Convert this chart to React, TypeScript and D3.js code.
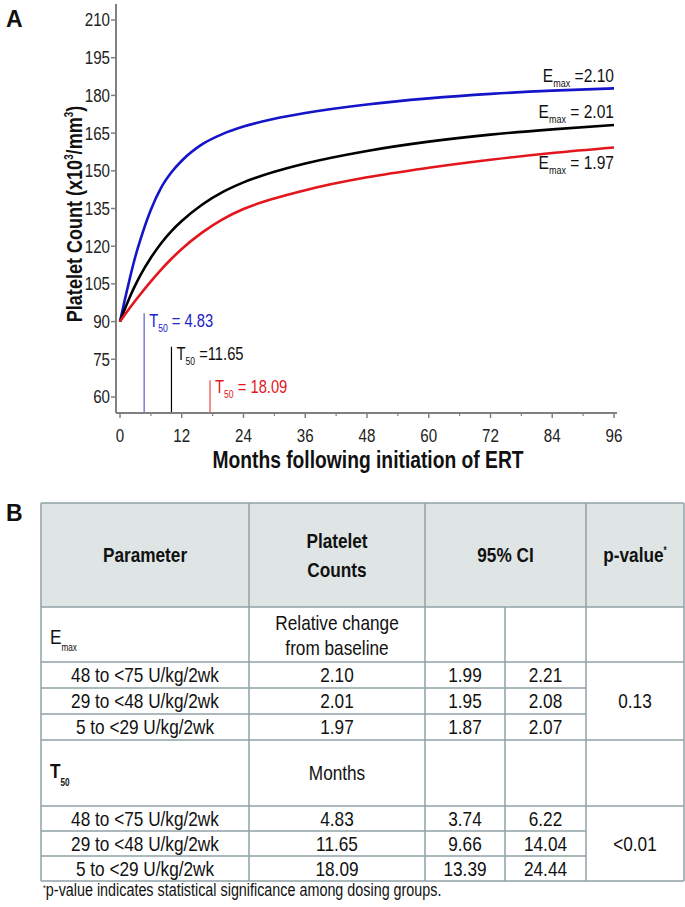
import React from "react";
import * as d3 from "d3";

const months = [0, 1, 2, 3, 4, 6, 8, 10, 12, 16, 20, 24, 30, 36, 48, 60, 72, 84, 96];
const highDose = [90, 99.3, 108, 116, 122.8, 134.5, 143.3, 149.4, 154, 160.6, 164.7, 167.6, 170.7, 173, 176.4, 178.8, 180.6, 181.9, 182.8];
const midDose = [90, 95.3, 100.2, 104.6, 108.6, 115.4, 121.2, 126, 130, 136.6, 141.6, 145.4, 149.6, 152.9, 157.9, 161.6, 164.4, 166.5, 168.2];
const lowDose = [90, 92.9, 95.7, 98.4, 101, 106, 110.7, 115, 118.9, 125.5, 130.8, 134.8, 139, 142.3, 147.4, 151.2, 154.4, 157.1, 159.3];

const yTicks = [60, 75, 90, 105, 120, 135, 150, 165, 180, 195, 210];
const xTicks = [0, 12, 24, 36, 48, 60, 72, 84, 96];
const xMinorTicks = [6, 18, 30, 42, 54, 66, 78, 90];

const emaxLabels = ["2.10", "2.01", "1.97"];
const emaxLabelY = [188, 173.5, 153.5];
const t50Labels = ["4.83", "11.65", "18.09"];
const t50LineX = [4.7, 10, 17.5];
const t50LineTop = [93.3, 80, 66.7];

const groups = ["48 to <75 U/kg/2wk", "29 to <48 U/kg/2wk", "5 to <29 U/kg/2wk"];
const emaxValues = ["2.10", "2.01", "1.97"];
const emaxLow = ["1.99", "1.95", "1.87"];
const emaxHigh = ["2.21", "2.08", "2.07"];
const t50Values = ["4.83", "11.65", "18.09"];
const t50Low = ["3.74", "9.66", "13.39"];
const t50High = ["6.22", "14.04", "24.44"];
const pValues = ["0.13", "<0.01"];

const FONT = "'Liberation Sans', Arial, sans-serif";
const SX = 0.82;

type NTProps = {
  x: number;
  y: number;
  size: number;
  anchor?: string;
  weight?: string;
  fill?: string;
  dy?: string;
  rotate?: number;
  children: React.ReactNode;
};

function NT({ x, y, size, anchor = "start", weight = "normal", fill = "#111", dy = "0.35em", rotate = 0, children }: NTProps) {
  return (
    <g transform={`translate(${x},${y}) rotate(${rotate}) scale(${SX},1)`}>
      <text x={0} y={0} dy={dy} fontSize={size} textAnchor={anchor} fontWeight={weight} fill={fill} fontFamily={FONT}>
        {children}
      </text>
    </g>
  );
}

export default function App() {
  const x = d3.scaleLinear().domain([0, 96]).range([120, 614]);
  const y = d3.scaleLinear().domain([60, 210]).range([397, 20]);
  const line = d3
    .line<number>()
    .x((_, i) => x(months[i]))
    .y((d) => y(d))
    .curve(d3.curveMonotoneX);

  const series = [
    { data: highDose, color: "#1414c8" },
    { data: midDose, color: "#000000" },
    { data: lowDose, color: "#e3161e" },
  ];
  const t50Colors = ["#7b7bd8", "#000000", "#ee6a6a"];
  const t50TextColors = ["#2020c8", "#111111", "#e3161e"];

  const axisColor = "#808080";
  const gridColor = "#8fa2a6";

  const colX = [41, 249, 425, 505, 586, 684];
  const rowY = [503, 607, 662, 688, 714, 740, 806, 831, 856, 881];
  const tf = 21;
  const c1 = (colX[1] + colX[2]) / 2;
  const c2 = (colX[2] + colX[3]) / 2;
  const c3 = (colX[3] + colX[4]) / 2;
  const c4 = (colX[4] + colX[5]) / 2;

  return (
    <svg width={685} height={907} style={{ position: "absolute", left: 0, top: 0, background: "#fff" }} fontFamily={FONT}>
      <rect x={0} y={0} width={685} height={907} fill="#fff" />
      {/* Panel A */}
      <text x={6} y={27} fontSize={23} fontWeight="bold" fill="#111">A</text>

      <line x1={116} x2={116} y1={4} y2={413} stroke={axisColor} strokeWidth={2} />
      <line x1={116} x2={617} y1={413} y2={413} stroke={axisColor} strokeWidth={2} />
      {yTicks.map((t) => (
        <g key={"yt" + t}>
          <line x1={111} x2={116} y1={y(t)} y2={y(t)} stroke={axisColor} strokeWidth={1.5} />
          <NT x={110} y={y(t)} size={18.5} anchor="end" fill="#222">{t}</NT>
        </g>
      ))}
      {xTicks.map((t) => (
        <g key={"xt" + t}>
          <line x1={x(t)} x2={x(t)} y1={413} y2={418} stroke={axisColor} strokeWidth={1.5} />
          <NT x={x(t)} y={436} size={18.5} anchor="middle" fill="#222">{t}</NT>
        </g>
      ))}
      {xMinorTicks.map((t) => (
        <line key={"xm" + t} x1={x(t)} x2={x(t)} y1={413} y2={416} stroke={axisColor} strokeWidth={1.2} />
      ))}

      <NT x={74} y={214} size={22} anchor="middle" weight="bold" rotate={-90}>
        Platelet Count (x10<tspan dy={-9} fontSize={12}>3</tspan>
        <tspan dy={9}>/mm</tspan>
        <tspan dy={-9} fontSize={12}>3</tspan>
        <tspan dy={9}>)</tspan>
      </NT>
      <NT x={368} y={460} size={23.5} anchor="middle" weight="bold">
        Months following initiation of ERT
      </NT>

      {t50LineX.map((t, i) => (
        <g key={"t50" + i}>
          <line x1={x(t)} x2={x(t)} y1={412} y2={y(t50LineTop[i])} stroke={t50Colors[i]} strokeWidth={i === 1 ? 1.2 : 1.5} />
          <NT x={x(t) + 5} y={y(t50LineTop[i]) + 7} size={18} fill={t50TextColors[i]}>
            T<tspan dy={5} fontSize={10.5}>50</tspan>
            <tspan dy={-5}>{i === 1 ? " =" : " = "}{t50Labels[i]}</tspan>
          </NT>
        </g>
      ))}

      {series.map((s, i) => (
        <path key={"s" + i} d={line(s.data) || ""} fill="none" stroke={s.color} strokeWidth={2.6} />
      ))}

      {emaxLabels.map((lab, i) => (
        <NT key={"em" + i} x={614} y={y(emaxLabelY[i])} size={19} anchor="end">
          E<tspan dy={5} fontSize={11}>max</tspan>
          <tspan dy={-5}>{i === 0 ? " =" : " = "}{lab}</tspan>
        </NT>
      ))}

      {/* Panel B */}
      <text x={6} y={521} fontSize={23} fontWeight="bold" fill="#111">B</text>

      <rect x={colX[0]} y={rowY[0]} width={colX[5] - colX[0]} height={rowY[1] - rowY[0]} fill="#dfe5e5" />
      {rowY.map((ry, i) => {
        const x2 = i === 3 || i === 4 || i === 7 || i === 8 ? colX[4] : colX[5];
        return <line key={"h" + i} x1={colX[0]} x2={x2} y1={ry} y2={ry} stroke={gridColor} strokeWidth={1.5} />;
      })}
      {colX.map((cx, i) => (
        <line key={"v" + i} x1={cx} x2={cx} y1={i === 3 ? rowY[1] : rowY[0]} y2={rowY[9]} stroke={gridColor} strokeWidth={1.5} />
      ))}

      <NT x={(colX[0] + colX[1]) / 2} y={(rowY[0] + rowY[1]) / 2} size={tf} anchor="middle" weight="bold">Parameter</NT>
      <NT x={c1} y={(rowY[0] + rowY[1]) / 2 - 14} size={tf} anchor="middle" weight="bold">Platelet</NT>
      <NT x={c1} y={(rowY[0] + rowY[1]) / 2 + 15} size={tf} anchor="middle" weight="bold">Counts</NT>
      <NT x={(colX[2] + colX[4]) / 2} y={(rowY[0] + rowY[1]) / 2} size={tf} anchor="middle" weight="bold">95% CI</NT>
      <NT x={c4} y={(rowY[0] + rowY[1]) / 2} size={tf} anchor="middle" weight="bold">
        p-value<tspan dy={-8} fontSize={10}>*</tspan>
      </NT>

      <NT x={50} y={(rowY[1] + rowY[2]) / 2 + 2} size={tf}>
        E<tspan dy={7} fontSize={10}>max</tspan>
      </NT>
      <NT x={c1} y={(rowY[1] + rowY[2]) / 2 - 12} size={tf} anchor="middle">Relative change</NT>
      <NT x={c1} y={(rowY[1] + rowY[2]) / 2 + 13} size={tf} anchor="middle">from baseline</NT>
      {groups.map((g, i) => {
        const cy = (rowY[2 + i] + rowY[3 + i]) / 2;
        return (
          <g key={"er" + i}>
            <NT x={145} y={cy} size={tf} anchor="middle">{g}</NT>
            <NT x={c1} y={cy} size={tf} anchor="middle">{emaxValues[i]}</NT>
            <NT x={c2} y={cy} size={tf} anchor="middle">{emaxLow[i]}</NT>
            <NT x={c3} y={cy} size={tf} anchor="middle">{emaxHigh[i]}</NT>
          </g>
        );
      })}
      <NT x={c4} y={(rowY[2] + rowY[5]) / 2} size={tf} anchor="middle">{pValues[0]}</NT>

      <NT x={50} y={(rowY[5] + rowY[6]) / 2 - 2} size={tf} weight="bold">
        T<tspan dy={8} fontSize={10}>50</tspan>
      </NT>
      <NT x={c1} y={(rowY[5] + rowY[6]) / 2} size={tf} anchor="middle">Months</NT>
      {groups.map((g, i) => {
        const cy = (rowY[6 + i] + rowY[7 + i]) / 2;
        return (
          <g key={"tr" + i}>
            <NT x={145} y={cy} size={tf} anchor="middle">{g}</NT>
            <NT x={c1} y={cy} size={tf} anchor="middle">{t50Values[i]}</NT>
            <NT x={c2} y={cy} size={tf} anchor="middle">{t50Low[i]}</NT>
            <NT x={c3} y={cy} size={tf} anchor="middle">{t50High[i]}</NT>
          </g>
        );
      })}
      <NT x={c4} y={(rowY[6] + rowY[9]) / 2} size={tf} anchor="middle">{pValues[1]}</NT>

      <NT x={43} y={896} size={17.5}>
        <tspan dy={-5} fontSize={9}>*</tspan>
        <tspan dy={5}>p-value indicates statistical significance among dosing groups.</tspan>
      </NT>
    </svg>
  );
}
